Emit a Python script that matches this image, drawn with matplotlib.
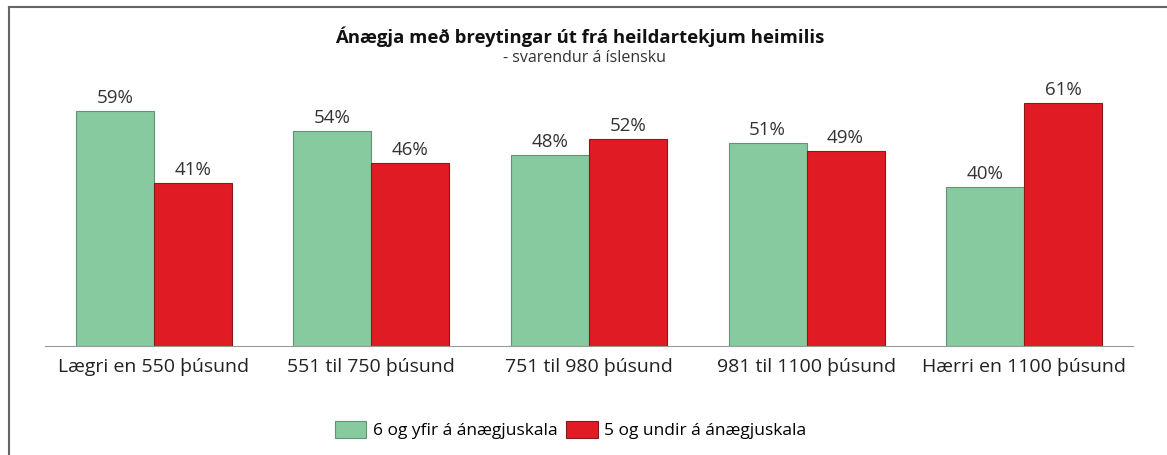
import numpy as np
import matplotlib.pyplot as plt
from matplotlib.lines import Line2D

plt.rcParams['font.family'] = ['Open Sans', 'DejaVu Sans']

# data
categories = ['Lægri en 550 þúsund', '551 til 750 þúsund', '751 til 980 þúsund',
              '981 til 1100 þúsund', 'Hærri en 1100 þúsund']
ofan = [59, 54, 48, 51, 40]
undir = [41, 46, 52, 49, 61]
series_names = ['6 og yfir á ánægjuskala', '5 og undir á ánægjuskala']

green = '#88CAA0'
red = '#E01B24'

fig = plt.figure(figsize=(11.67, 4.55), dpi=100)
ax = fig.add_axes([45/1167, 1-346/455, 1088/1167, 259/455])

x = np.arange(len(categories))
w = 0.358
b1 = ax.bar(x - w/2, ofan, w, color=green, edgecolor='#5E9473', linewidth=0.8, label=series_names[0])
b2 = ax.bar(x + w/2, undir, w, color=red, edgecolor='#8A1A1A', linewidth=0.8, label=series_names[1])

for bars in (b1, b2):
    for r in bars:
        ax.text(r.get_x() + r.get_width()/2, r.get_height() + 1.0, '%d%%' % r.get_height(),
                ha='center', va='bottom', fontsize=13.5, color='#333333')

ax.set_xlim(-0.5, len(categories) - 0.5)
ax.set_ylim(0, 65)
ax.set_yticks([])
ax.set_xticks(x)
ax.set_xticklabels(categories, fontsize=14, color='#222222')
ax.tick_params(axis='x', length=0, pad=9)
for s in ['top', 'right', 'left']:
    ax.spines[s].set_visible(False)
ax.spines['bottom'].set_color('#999999')

fig.text(0.497, 1-37/455, 'Ánægja með breytingar út frá heildartekjum heimilis',
         ha='center', va='center', fontsize=13.3, fontweight='bold', color='#111111')
fig.text(0.501, 1-58/455, '- svarendur á íslensku', ha='center', va='center',
         fontsize=11.5, color='#333333')

fig.legend(handles=[b1, b2], labels=series_names, loc='center', bbox_to_anchor=(0.489, 1-430/455),
           ncol=2, frameon=False, fontsize=12.5, handlelength=1.8, handleheight=1.2,
           columnspacing=0.5, handletextpad=0.4)

# frame lines round the chart
fig.add_artist(Line2D([9/1167, 9/1167], [0, 1-7/455], color='#666666', linewidth=1.5))
fig.add_artist(Line2D([9/1167, 1], [1-7/455, 1-7/455], color='#666666', linewidth=1.5))

fig.savefig('out.png', dpi=100)
